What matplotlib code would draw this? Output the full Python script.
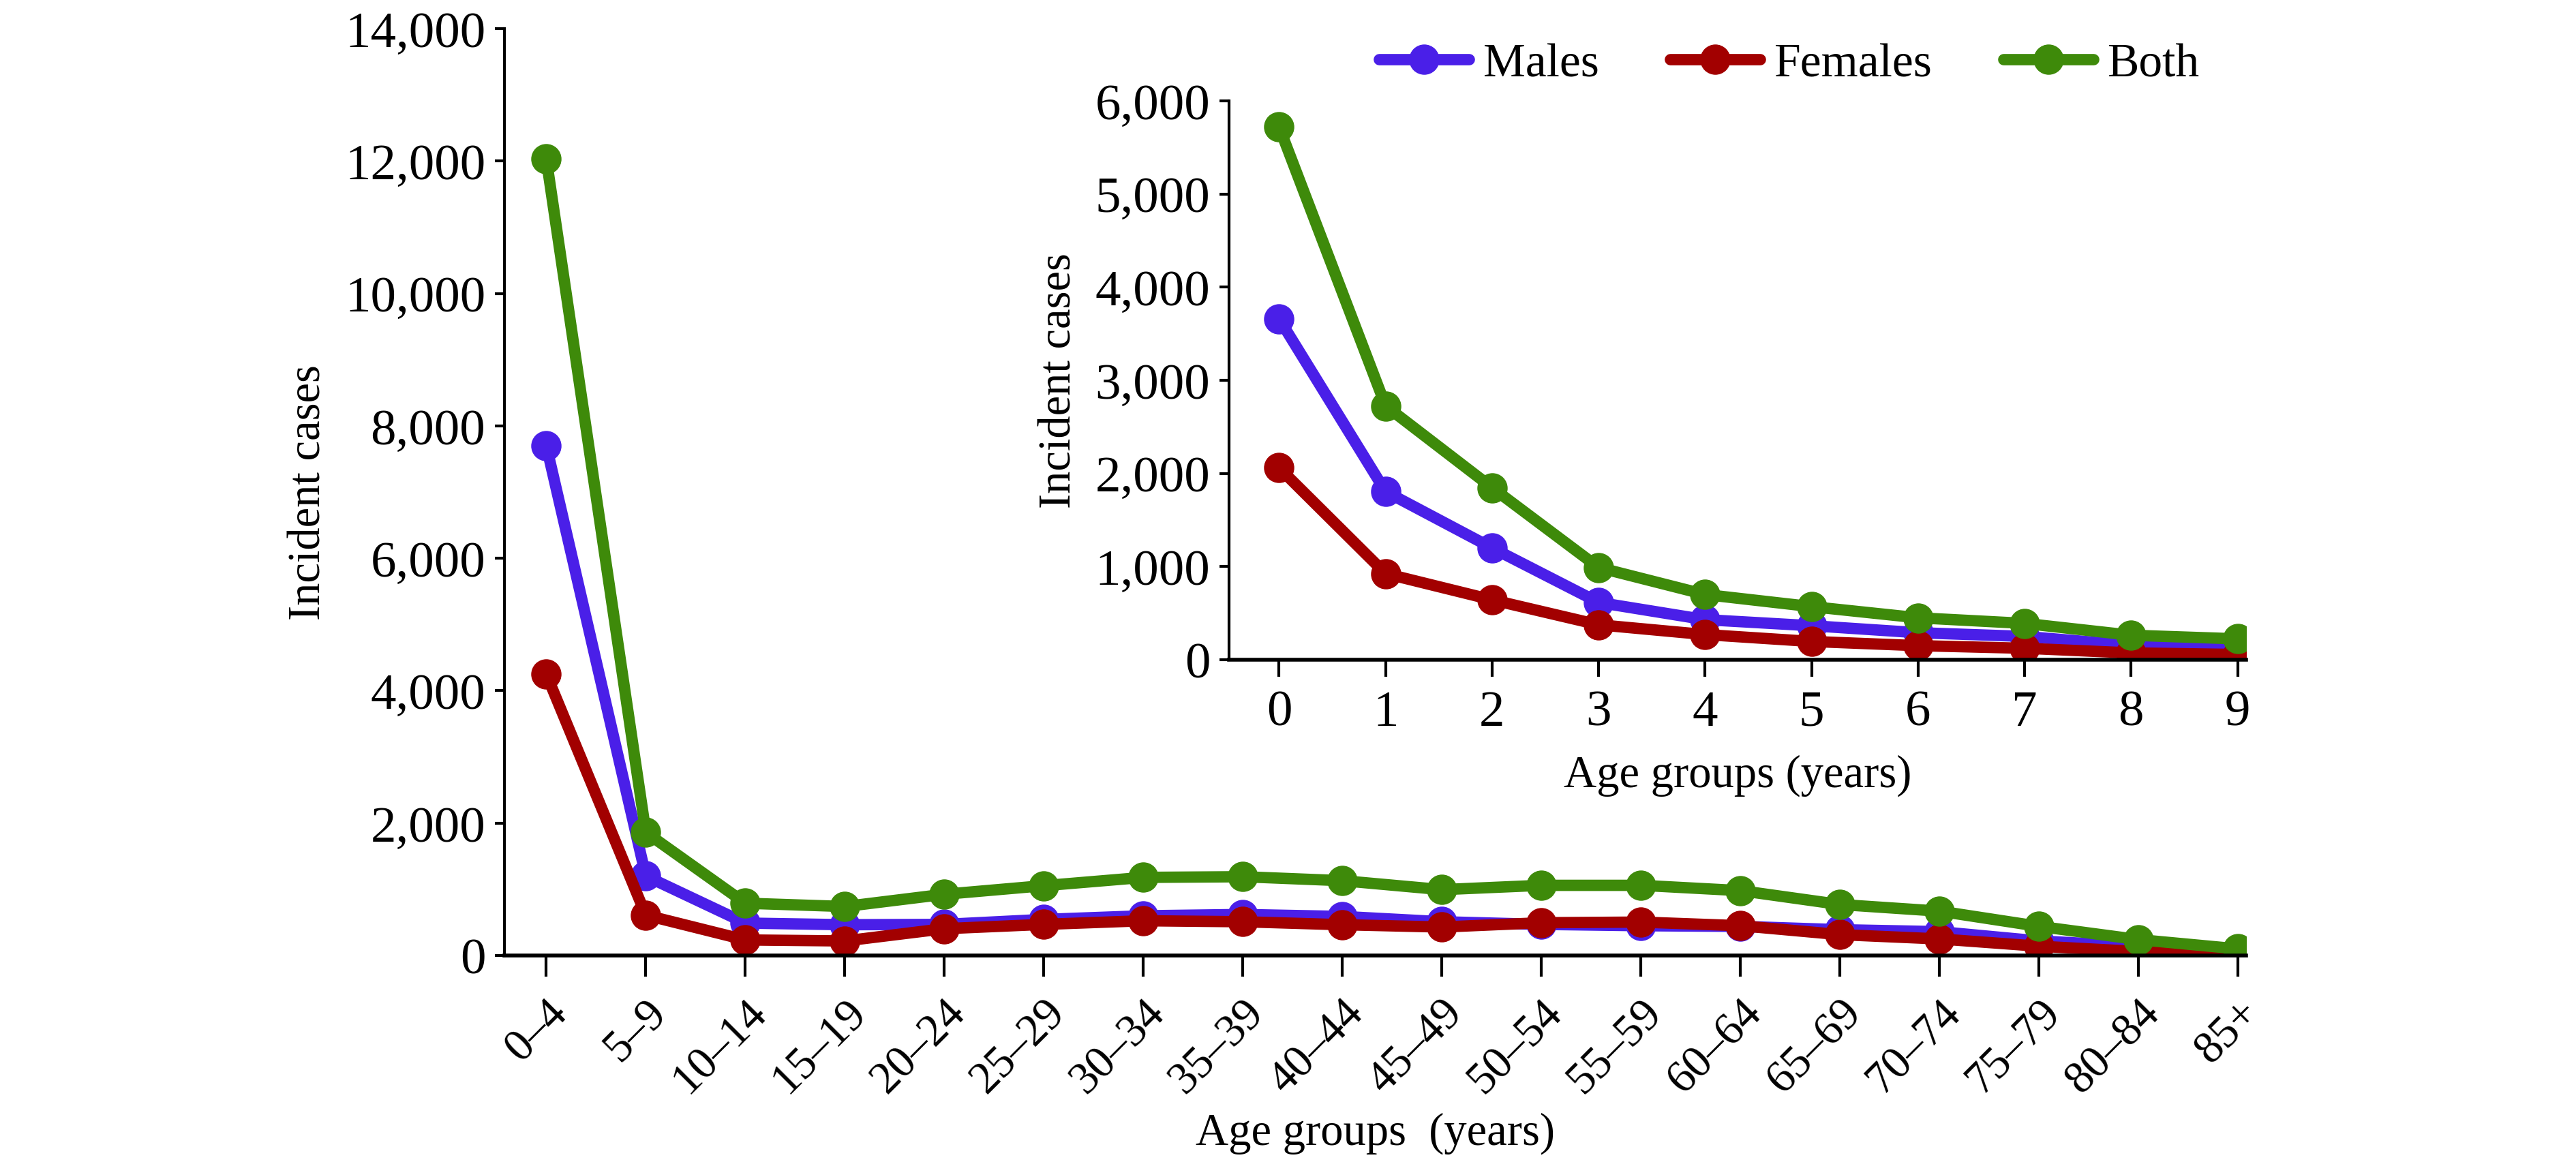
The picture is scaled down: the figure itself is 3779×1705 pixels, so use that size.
import numpy as np
import matplotlib.pyplot as plt
from matplotlib.ticker import FuncFormatter

plt.rcParams['font.family'] = ['Liberation Serif', 'DejaVu Serif']

# main chart data (5-year age groups)
age_groups = ["0\u20134", "5\u20139", "10\u201314", "15\u201319", "20\u201324", "25\u201329",
              "30\u201334", "35\u201339", "40\u201344", "45\u201349", "50\u201354", "55\u201359",
              "60\u201364", "65\u201369", "70\u201374", "75\u201379", "80\u201384", "85+"]
males = [7700, 1200, 490, 465, 470, 545, 600, 620, 590, 510, 470, 450, 440, 390, 360, 220, 140, 30]
females = [4250, 610, 235, 220, 405, 470, 525, 510, 465, 430, 495, 505, 450, 315, 250, 140, 60, 15]
both = [12030, 1860, 790, 740, 925, 1055, 1180, 1190, 1130, 995, 1060, 1060, 980, 770, 670, 440, 240, 100]

# inset data (single years 0-9)
ages_single = [0, 1, 2, 3, 4, 5, 6, 7, 8, 9]
males_single = [3660, 1805, 1200, 615, 430, 365, 290, 250, 155, 140]
females_single = [2060, 925, 643, 375, 270, 196, 151, 123, 73, 56]
both_single = [5720, 2725, 1847, 990, 700, 570, 450, 390, 263, 224]

c_m = "#4A1FE8"
c_f = "#A20000"
c_b = "#3E8A0A"
lw = 12
ms = 31
fs_tick = 54
fs_rot = 48
fs_lab = 48
fs_leg = 50

fmt = FuncFormatter(lambda v, p: f"{int(v):,}")

fig = plt.figure(figsize=(37.8, 17.06), dpi=100)

ax = fig.add_axes([0.1958, 0.1776, 0.6759, 0.7972])
x = np.arange(len(age_groups))
for vals, col, lab in [(males, c_m, "Males"), (females, c_f, "Females"), (both, c_b, "Both")]:
    ax.plot(x, vals, color=col, lw=lw, marker="o", ms=ms, label=lab, solid_capstyle="round")
ax.set_xlim(-0.42, 17.08)
ax.set_ylim(0, 14000)
ax.set_yticks(np.arange(0, 14001, 2000))
ax.yaxis.set_major_formatter(fmt)
ax.set_xticks(x)
ax.set_xticklabels(age_groups, rotation=45, ha="right", rotation_mode="anchor")
ax.tick_params(axis="both", width=3, direction="out")
ax.tick_params(axis="x", length=22, pad=16, labelsize=fs_rot)
ax.tick_params(axis="y", length=10, pad=10, labelsize=fs_tick)
for s in ["top", "right"]:
    ax.spines[s].set_visible(False)
ax.spines["left"].set_linewidth(3)
ax.spines["bottom"].set_linewidth(4)
ax.set_ylabel("Incident cases", fontsize=fs_lab, va="center")
ax.yaxis.set_label_coords(-0.1123, 0.5)
ax.set_xlabel("Age groups  (years)", fontsize=fs_lab, va="center")
ax.xaxis.set_label_coords(0.5, -0.191)

ins = fig.add_axes([0.477, 0.432, 0.3947, 0.4807])
for vals, col in [(males_single, c_m), (females_single, c_f), (both_single, c_b)]:
    ins.plot(ages_single, vals, color=col, lw=lw, marker="o", ms=ms, solid_capstyle="round")
ins.set_xlim(-0.47, 9.08)
ins.set_ylim(0, 6000)
ins.set_yticks(np.arange(0, 6001, 1000))
ins.yaxis.set_major_formatter(fmt)
ins.set_xticks(ages_single)
ins.tick_params(axis="both", labelsize=fs_tick, width=3, direction="out")
ins.tick_params(axis="x", length=18, pad=14)
ins.tick_params(axis="y", length=10, pad=10)
for s in ["top", "right"]:
    ins.spines[s].set_visible(False)
ins.spines["left"].set_linewidth(3)
ins.spines["bottom"].set_linewidth(4)
ins.set_ylabel("Incident cases", fontsize=fs_lab, va="center")
ins.yaxis.set_label_coords(-0.167, 0.5)
ins.set_xlabel("Age groups (years)", fontsize=fs_lab, va="center")
ins.xaxis.set_label_coords(0.5, -0.206)

fig.legend(loc="center", bbox_to_anchor=(0.6945, 0.944), ncol=3, frameon=False,
           fontsize=fs_leg, handlelength=1.9, handletextpad=0.3, columnspacing=1.5)

fig.savefig("out.png", dpi=100, facecolor="white")
